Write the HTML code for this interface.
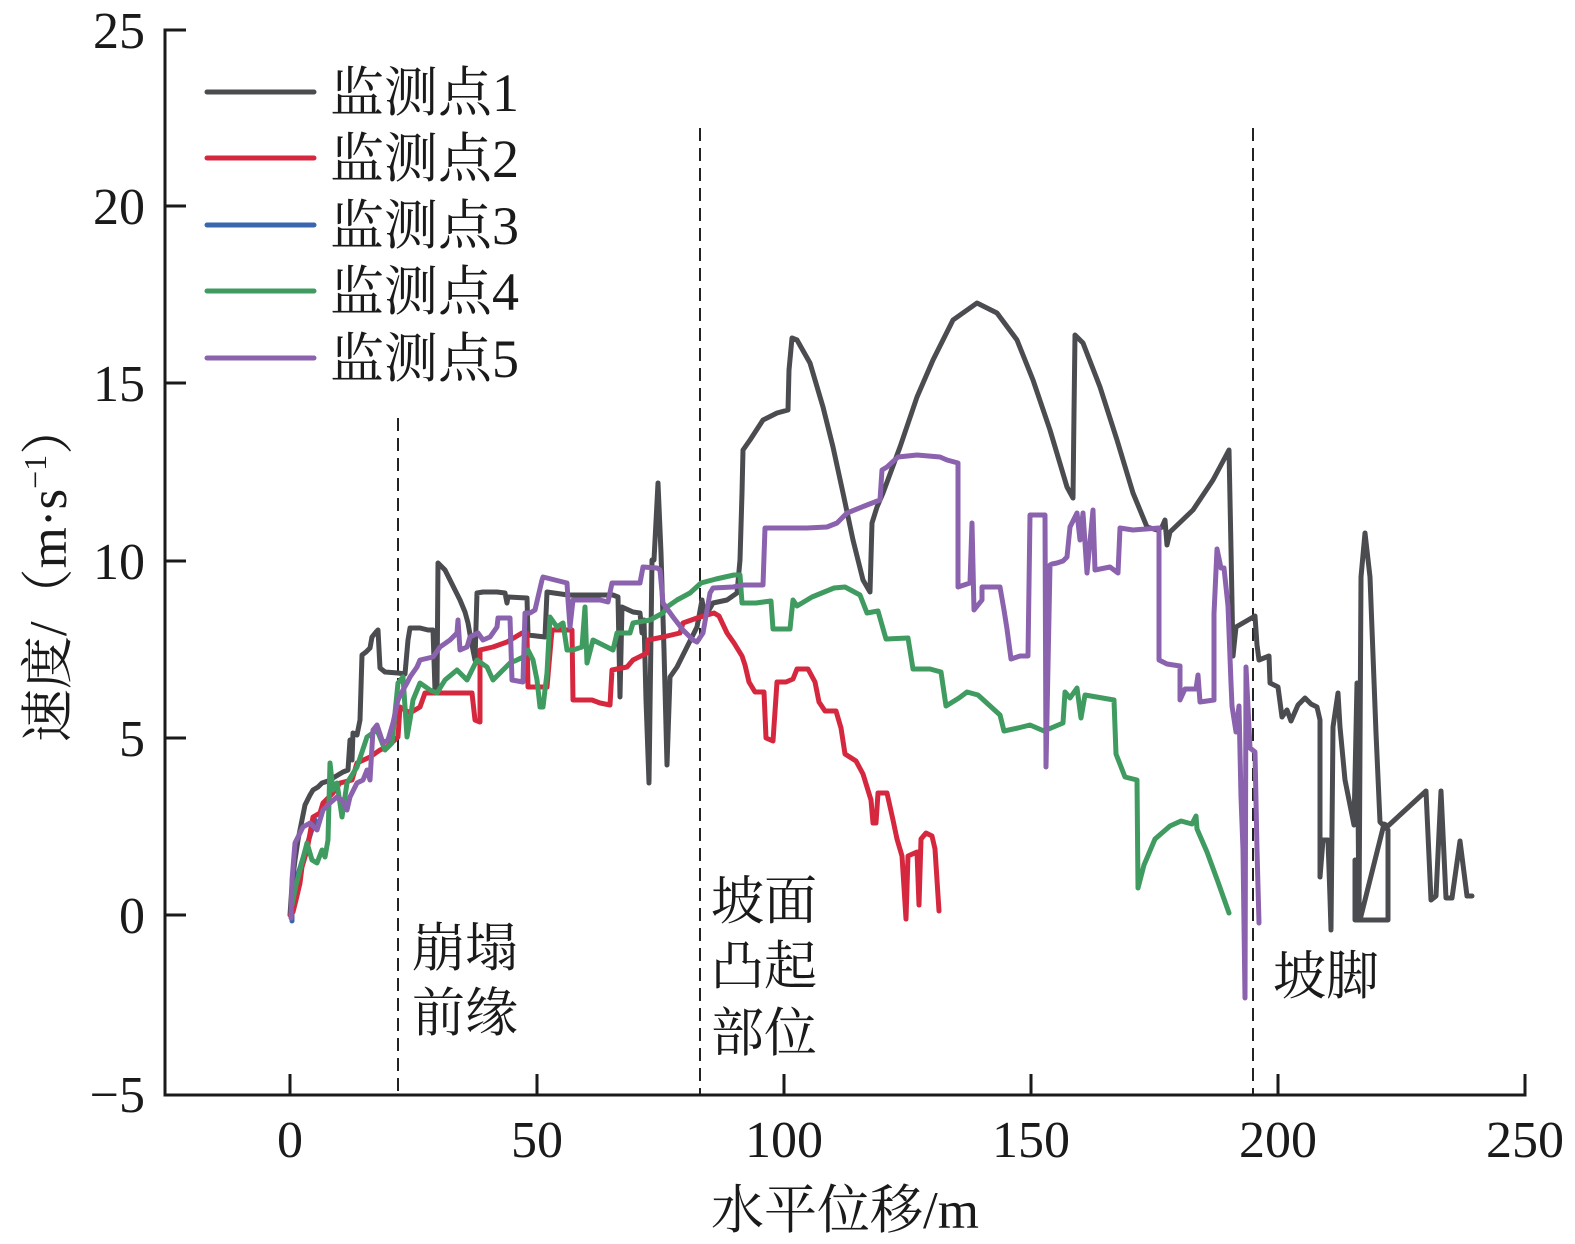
<!DOCTYPE html>
<html><head><meta charset="utf-8">
<style>
html,body{margin:0;padding:0;background:#fff;}
svg{display:block;}
text{font-family:"Liberation Serif","Noto Serif CJK SC",serif;fill:#1a1a1a;}
</style></head>
<body>
<svg width="1575" height="1244" viewBox="0 0 1575 1244" xmlns="http://www.w3.org/2000/svg">
<rect width="1575" height="1244" fill="#fff"/>
<!-- dashed reference lines -->
<g stroke="#222" stroke-width="2" stroke-dasharray="13,7" fill="none">
<line x1="398" y1="418" x2="398" y2="1095"/>
<line x1="700" y1="128" x2="700" y2="1095"/>
<line x1="1253" y1="128" x2="1253" y2="1095"/>
</g>
<!-- series -->
<g fill="none" stroke-width="5" stroke-linejoin="round" stroke-linecap="round">
<polyline stroke="#3a66ad" points="292,921 292,900 296,880 300,868 307,845 315,820"/>
<polyline stroke="#4b4c50" points="290,915 292,885 295,860 298,840 302,820 305,805 310,795 313,790 318,787 322,783 328,781 333,778 338,775 343,772 348,770 350,740 352,760 353,733 357,735 360,720 362,655 366,652 370,648 372,637 376,632 378,630 380,668 385,672 398,673 405,674 408,640 410,628 420,628 428,630 433,630 435,690 437,690 438,563 445,570 450,580 455,590 460,600 465,612 468,623 471,640 473,650 475,660 477,593 483,592 497,592 505,593 507,603 508,597 527,598 528,635 545,637 547,592 568,595 590,595 613,595 618,597 620,697 622,607 633,612 640,613 642,633 644,620 646,700 649,783 652,560 654,560 658,483 661,553 664,650 667,765 670,677 677,667 687,647 697,627 702,600 705,617 713,603 727,600 737,593 740,560 742,493 743,450 750,440 763,420 777,413 788,410 789,370 792,338 797,340 810,363 823,407 833,447 843,493 853,540 863,580 870,592 872,523 877,507 883,493 900,447 917,397 933,360 953,320 977,303 997,313 1017,340 1033,380 1050,430 1067,487 1073,498 1074,413 1075,335 1083,343 1100,387 1117,440 1133,493 1147,527 1157,530 1162,527 1165,520 1167,545 1170,532 1193,510 1213,480 1229,450 1231,549 1233,656 1236,627 1255,616 1257,645 1259,660 1269,656 1270,683 1278,687 1282,717 1287,710 1291,721 1298,705 1305,698 1311,704 1317,707 1320,720 1320,877 1323,840 1328,840 1330,898 1331,930 1333,727 1338,693 1340,727 1345,780 1354,825 1357,683 1359,920 1361,577 1365,533 1370,577 1376,733 1380,822 1388,830 1388,920 1355,920 1355,860 1360,920 1384,824 1388,826 1426,791 1431,900 1436,896 1441,791 1446,898 1452,898 1460,841 1467,896 1472,896"/>
<polyline stroke="#d5283f" points="290,915 293,912 296,900 300,883 302,867 307,850 313,817 320,813 323,803 333,793 340,783 352,780 357,763 370,757 380,750 387,747 398,737 400,707 410,713 420,707 425,693 440,693 457,693 472,693 475,720 480,722 480,650 493,647 507,642 522,633 527,633 528,687 547,687 552,630 572,630 573,700 592,700 600,703 610,705 612,670 627,667 633,660 647,653 648,640 663,637 680,633 683,623 697,618 714,613 719,616 727,633 734,643 742,656 745,665 749,682 755,692 764,692 766,738 773,741 777,682 786,682 793,679 797,669 808,669 815,682 819,702 825,711 836,711 841,728 845,754 856,761 863,774 867,787 871,800 873,823 876,823 878,793 887,793 893,820 897,839 902,856 906,919 908,856 917,852 919,905 921,839 926,833 932,836 935,849 939,911"/>
<polyline stroke="#3f9b60" points="292,905 296,885 300,870 307,843 312,860 317,863 322,850 325,857 328,840 330,763 333,790 337,783 342,817 347,783 357,767 367,737 377,730 385,750 392,743 398,683 403,677 407,737 410,720 413,700 420,683 430,690 437,693 445,680 457,670 467,680 477,660 487,667 493,680 500,673 510,663 517,660 523,657 528,650 533,660 537,680 540,707 543,707 547,673 550,617 557,627 563,623 567,650 573,650 582,647 585,607 587,663 593,640 613,650 617,633 630,633 633,623 650,620 663,613 667,607 677,600 690,593 701,583 716,579 734,575 740,575 742,603 756,603 771,601 773,629 790,629 793,600 797,606 812,597 834,588 845,587 860,595 867,613 878,611 886,639 908,638 913,669 930,669 941,672 946,706 959,698 967,692 978,695 1000,715 1004,731 1018,728 1030,725 1044,731 1063,723 1065,692 1070,698 1077,688 1081,718 1085,695 1114,700 1116,754 1125,777 1137,780 1138,888 1144,865 1155,839 1170,826 1181,821 1192,824 1196,816 1197,829 1207,852 1218,882 1229,913"/>
<polyline stroke="#8b62ae" points="291,918 292,880 295,843 303,827 310,823 317,830 323,810 330,803 337,797 342,800 347,810 350,797 357,783 363,780 367,770 370,780 373,730 377,725 383,743 388,740 393,723 398,700 403,690 407,683 410,677 417,667 420,660 433,657 440,647 450,640 457,633 458,620 460,650 467,647 470,637 478,633 483,640 490,637 497,627 498,618 510,618 512,680 523,682 525,613 530,613 535,610 542,580 543,577 563,582 567,583 568,600 570,627 573,600 600,600 608,602 612,583 633,583 640,583 643,567 657,568 660,570 663,603 673,617 683,630 693,640 697,642 703,633 710,593 713,588 733,587 743,585 763,585 765,528 783,528 807,528 827,527 837,523 847,513 867,505 880,500 882,470 887,467 898,457 917,455 940,457 947,460 958,463 958,587 970,583 972,523 974,610 982,600 982,587 1000,587 1004,610 1007,629 1011,659 1020,656 1028,656 1030,515 1045,515 1046,767 1050,565 1052,564 1057,563 1063,561 1067,557 1070,527 1077,513 1080,540 1083,513 1087,573 1093,510 1095,570 1110,567 1118,573 1120,528 1133,530 1159,528 1159,660 1167,664 1180,666 1180,700 1185,689 1196,689 1198,675 1200,702 1214,700 1214,614 1217,549 1221,568 1224,568 1228,606 1231,683 1232,706 1236,732 1239,706 1241,797 1243,850 1245,998 1246,667 1250,748 1255,752 1257,850 1259,923"/>
</g>
<!-- axes -->
<g stroke="#1a1a1a" stroke-width="3" fill="none">
<polyline points="186,30 165,30 165,1095 1525,1095 1525,1074"/>
<line x1="165" y1="206" x2="186" y2="206"/>
<line x1="165" y1="383" x2="186" y2="383"/>
<line x1="165" y1="561" x2="186" y2="561"/>
<line x1="165" y1="738" x2="186" y2="738"/>
<line x1="165" y1="915" x2="186" y2="915"/>
<line x1="290" y1="1095" x2="290" y2="1074"/>
<line x1="537" y1="1095" x2="537" y2="1074"/>
<line x1="784" y1="1095" x2="784" y2="1074"/>
<line x1="1031" y1="1095" x2="1031" y2="1074"/>
<line x1="1278" y1="1095" x2="1278" y2="1074"/>
</g>
<!-- y tick labels -->
<g font-size="52" text-anchor="end">
<text x="145" y="48">25</text>
<text x="145" y="224">20</text>
<text x="145" y="401">15</text>
<text x="145" y="579">10</text>
<text x="145" y="756">5</text>
<text x="145" y="933">0</text>
<text x="145" y="1112">−5</text>
</g>
<!-- x tick labels -->
<g font-size="52" text-anchor="middle">
<text x="290" y="1157">0</text>
<text x="537" y="1157">50</text>
<text x="784" y="1157">100</text>
<text x="1031" y="1157">150</text>
<text x="1278" y="1157">200</text>
<text x="1525" y="1157">250</text>
</g>
<!-- axis titles -->
<text x="845" y="1228" font-size="53" text-anchor="middle">水平位移/m</text>
<text transform="translate(66,572) rotate(-90)" font-size="53" text-anchor="middle">速度/（m·s<tspan font-size="32" dy="-20">−1</tspan><tspan dy="20">）</tspan></text>
<!-- legend -->
<g stroke-width="5" stroke-linecap="round">
<line x1="207" y1="92" x2="314" y2="92" stroke="#4b4c50"/>
<line x1="207" y1="158" x2="314" y2="158" stroke="#d5283f"/>
<line x1="207" y1="225" x2="314" y2="225" stroke="#3a66ad"/>
<line x1="207" y1="291" x2="314" y2="291" stroke="#3f9b60"/>
<line x1="207" y1="358" x2="314" y2="358" stroke="#8b62ae"/>
</g>
<g font-size="54">
<text x="330" y="111">监测点1</text>
<text x="330" y="177">监测点2</text>
<text x="330" y="244">监测点3</text>
<text x="330" y="310">监测点4</text>
<text x="330" y="377">监测点5</text>
</g>
<!-- annotations -->
<g font-size="53">
<text x="412" y="966">崩塌</text>
<text x="412" y="1031">前缘</text>
<text x="711" y="919">坡面</text>
<text x="711" y="984">凸起</text>
<text x="711" y="1051">部位</text>
<text x="1273" y="994">坡脚</text>
</g>
</svg>
</body></html>
